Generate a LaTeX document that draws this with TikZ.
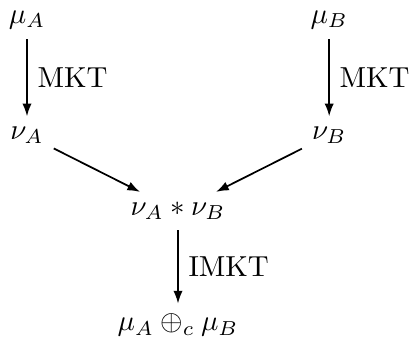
\documentclass[tikz,border=0pt]{standalone}
\usepackage{amsmath}
\usepackage{amssymb}
\usepackage{tikz}
\usetikzlibrary{calc,positioning,arrows.meta}

\begin{document}
\begin{tikzpicture}[map/.style={-{Latex[length=4.4pt,width=3.2pt]},semithick}]
  \useasboundingbox (0,0) rectangle (4.97,-4.107);
  \node (muA) at (0.328,-0.245) {$\mu_A$};
  \node (nuA) at (0.328,-1.64) {$\nu_A$};
  \node (muB) at (4.0,-0.245) {$\mu_B$};
  \node (nuB) at (4.0,-1.64) {$\nu_B$};
  \node (conv) at (2.163,-2.564) {$\nu_A * \nu_B$};
  \node (sum) at (2.163,-3.95) {$\mu_A \oplus_c \mu_B$};
  \draw[map] (muA) -- node[right]{MKT} (nuA);
  \draw[map] (muB) -- node[right]{MKT} (nuB);
  \draw[map] (nuA) -- (conv);
  \draw[map] (nuB) -- (conv);
  \draw[map] (conv) -- node[right]{IMKT} (sum);
\end{tikzpicture}
\end{document}
